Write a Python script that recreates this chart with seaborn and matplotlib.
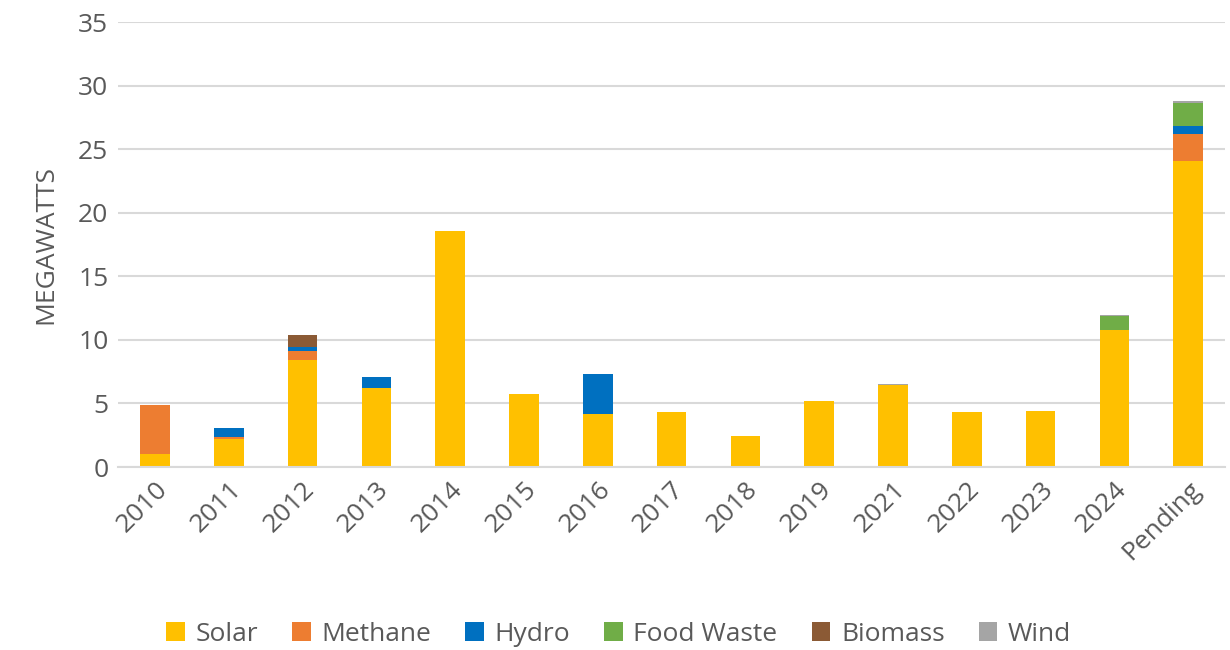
import matplotlib
matplotlib.use("Agg")
import matplotlib.pyplot as plt
from matplotlib.patches import Patch
import numpy as np
import seaborn as sns

years = ["2010", "2011", "2012", "2013", "2014", "2015", "2016", "2017",
         "2018", "2019", "2021", "2022", "2023", "2024", "Pending"]

solar = [1.05, 2.2, 8.4, 6.25, 18.6, 5.75, 4.15, 4.35, 2.45, 5.2, 6.45, 4.3, 4.4, 10.8, 24.05]
methane = [3.8, 0.18, 0.75, 0, 0, 0, 0, 0, 0, 0, 0, 0.05, 0, 0, 2.15]
hydro = [0, 0.7, 0.27, 0.8, 0, 0, 3.15, 0, 0, 0, 0, 0, 0, 0, 0.66]
food_waste = [0, 0, 0, 0, 0, 0, 0, 0, 0, 0, 0, 0, 0, 1.05, 1.75]
biomass = [0, 0, 0.95, 0, 0, 0, 0, 0, 0, 0, 0, 0, 0, 0, 0]
wind = [0, 0, 0, 0, 0, 0, 0, 0, 0, 0, 0.08, 0, 0, 0.08, 0.2]

series_names = ["Solar", "Methane", "Hydro", "Food Waste", "Biomass", "Wind"]
series_vals = [solar, methane, hydro, food_waste, biomass, wind]
colors = ["#FFC000", "#ED7D31", "#0070C0", "#70AD47", "#8B5A35", "#A5A5A5"]

sns.set_style("white")
plt.rcParams["font.family"] = ["Open Sans", "DejaVu Sans"]
text_col = "#595959"

fig = plt.figure(figsize=(12.3, 6.5), dpi=100)
ax = fig.add_axes([0.096, 0.2815, 0.9, 0.6845])

# stack by drawing cumulative totals from the top series down
cum = np.cumsum(np.array(series_vals), axis=0)
for i in range(len(series_names) - 1, -1, -1):
    sns.barplot(x=years, y=cum[i], color=colors[i], saturation=1,
                width=0.4, linewidth=0, ax=ax, zorder=2)

ax.set_ylim(0, 35)
ax.set_xlim(-0.5, 14.5)
ax.set_yticks(range(0, 36, 5))
ax.yaxis.grid(True, color="#D9D9D9", linewidth=1.5, zorder=0)
ax.set_axisbelow(True)
for s in ["top", "right", "left"]:
    ax.spines[s].set_visible(False)
ax.spines["bottom"].set_color("#D9D9D9")
ax.spines["bottom"].set_linewidth(1.5)

ax.tick_params(axis="both", length=0, labelsize=19, colors=text_col, pad=7)
plt.setp(ax.get_xticklabels(), rotation=45, ha="right", rotation_mode="anchor")
ax.set_xlabel("")
ax.set_ylabel("MEGAWATTS", fontsize=19, color=text_col, labelpad=14)

handles = [Patch(facecolor=c, edgecolor="none") for c in colors]
fig.legend(handles, series_names, loc="center", bbox_to_anchor=(0.503, 0.024),
           ncol=6, frameon=False, fontsize=19, labelcolor=text_col,
           handlelength=0.7, handleheight=0.7, handletextpad=0.4,
           columnspacing=1.3)

fig.savefig("out.png", dpi=100)
